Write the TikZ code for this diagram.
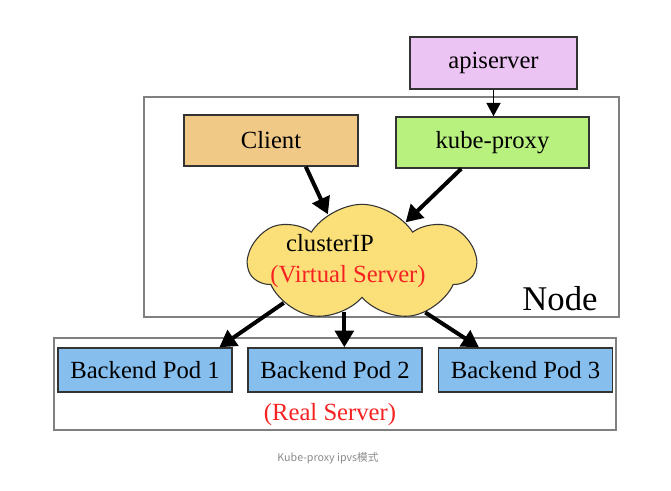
\documentclass[tikz,border=0pt]{standalone}
\usepackage{fontspec}
\setmainfont{Liberation Serif}
\newfontfamily\cjkfont{Noto Sans CJK SC}
\usetikzlibrary{shapes.symbols,arrows.meta}
\definecolor{apifill}{HTML}{ECC4F4}
\definecolor{clientfill}{HTML}{F0C986}
\definecolor{proxyfill}{HTML}{B9F17F}
\definecolor{cloudfill}{HTML}{FBE07A}
\definecolor{podfill}{HTML}{86BEEE}
\definecolor{servred}{HTML}{F52222}
\tikzset{
	box/.style={draw=black!80, line width=1.1pt, inner sep=0pt, minimum height=38.25pt, font=\fontsize{18.5}{22}\selectfont},
	podbox/.style={box, minimum width=130.5pt, minimum height=33pt, fill=podfill},
	frame/.style={draw=black!50, line width=0.8pt},
	flow/.style={line width=3pt, -{Triangle[length=12.5pt, width=14pt]}},
	thinflow/.style={line width=1.1pt, -{Triangle[length=10pt, width=10.5pt]}}
}

\begin{document}
\begin{tikzpicture}[x=0.75pt, y=-0.75pt]
			%%%%% START %%%%%
			\useasboundingbox[fill=white] (0, 0) rectangle (671, 490);
			
			\draw[frame] (144, 97) rectangle (619, 317);
			\draw[frame] (54, 338) rectangle (616, 430);
			
			\node[box, fill=apifill, minimum width=125.25pt, minimum height=39pt] (apiserver) at (493.5, 63) {apiserver};
			\node[box, fill=clientfill, minimum width=130.5pt] (client) at (271, 140.5) {Client};
			\node[box, fill=proxyfill, minimum width=144.75pt] (kubeproxy) at (492.5, 142.5) {kube-proxy};
			
			\node[cloud, cloud puffs=7, cloud puff arc=115, aspect=2, draw=black!80, line width=0.8pt, fill=cloudfill, minimum width=170pt, minimum height=88pt, inner sep=0pt] (cluster) at (362, 263) {};
			\node[font=\fontsize{18.5}{22}\selectfont] (clusterip) at (330, 243) {clusterIP};
			\node[font=\fontsize{18.5}{22}\selectfont, text=servred] (virtual) at (348, 277) {(Virtual Server)};
			
			\node[font=\fontsize{26}{30}\selectfont] (nodelabel) at (560, 299) {Node};
			
			\node[podbox] (pod1) at (145, 370) {Backend Pod 1\hspace{6pt}};
			\node[podbox] (pod2) at (335, 370) {Backend Pod 2\hspace{6pt}};
			\node[podbox] (pod3) at (525.5, 370) {Backend Pod 3\hspace{6pt}};
			
			\node[font=\fontsize{18.5}{22}\selectfont, text=servred] (real) at (330, 415) {(Real Server)};
			
			\draw[thinflow] (apiserver.south) -- (apiserver.south |- kubeproxy.north);
			\draw[flow] (client.-37) -- (cluster.125);
			\draw[flow] (kubeproxy.-140) -- (cluster.43);
			
			\draw[flow] (cluster.-153) -- (pod1.17);
			\draw[flow] (cluster.-110) -- (cluster.-110 |- pod2.north);
			\draw[flow] (cluster.-38) -- (pod3.154);
			
			\node[font=\cjkfont\fontsize{8}{10}\selectfont, text=black!45] (caption) at (328, 458) {Kube-proxy ipvs模式};
			%%%%% END %%%%%
\end{tikzpicture}
\end{document}
